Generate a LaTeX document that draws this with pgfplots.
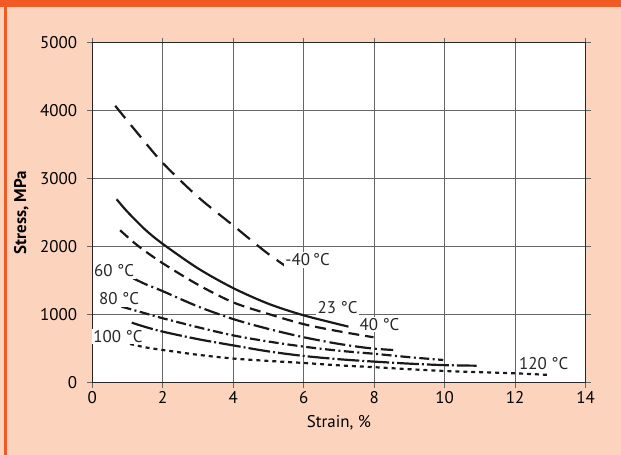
\documentclass[border=0pt]{standalone}
\usepackage{fontspec}
\setmainfont{PT Sans}
\usepackage{pgfplots}
\pgfplotsset{compat=1.18}
\definecolor{peach}{RGB}{252,212,190}
\definecolor{hdr}{RGB}{241,90,36}
\begin{document}
\fontsize{17}{20}\selectfont
\begin{tikzpicture}
\useasboundingbox (0,0) rectangle (621bp,455bp);
\fill[peach] (0,0) rectangle (621bp,455bp);
\fill[hdr] (0,447.7bp) rectangle (621bp,455bp);
\fill[hdr] (4bp,0) rectangle (7.3bp,455bp);
\begin{axis}[
  at={(92.3bp,72.3bp)}, anchor=south west,
  scale only axis, width=493.3bp, height=340.2bp,
  xmin=0, xmax=14, ymin=0, ymax=5000,
  xtick={0,2,...,14}, ytick={0,1000,...,5000},
  axis background/.style={fill=white},
  axis line style={line width=1.6pt, black!85},
  grid=major,
  major grid style={line width=1.1pt, black!60},
  tick align=outside, major tick length=5bp,
  tick style={line width=1.1pt, black!60},
  /pgf/number format/assume math mode=true,
  /pgf/number format/1000 sep={},
  yticklabel style={anchor=east, inner sep=0pt, xshift=-10bp},
  xticklabel style={anchor=north, inner sep=0pt, yshift=-4bp},
  xlabel={Strain, \%},
  ylabel={\bfseries Stress, MPa},
  xlabel style={at={(axis description cs:0.5,-0.117)}, anchor=center},
  ylabel style={at={(axis description cs:-0.144,0.5)}, anchor=center},
  every axis plot/.append style={line width=2.2pt, black!90, smooth, no markers},
  clip=false,
]
% -40 C
\addplot[dash pattern=on 16pt off 9pt] coordinates {(0.65,4070) (1.28,3670) (2.0,3230) (3.0,2730) (4.0,2310) (4.9,1930) (5.52,1700)};
% 23 C
\addplot[solid] coordinates {(0.69,2696) (1.0,2510) (1.5,2250) (2.0,2040) (3.0,1680) (4.0,1390) (5.0,1160) (6.0,990) (7.27,824)};
% 40 C
\addplot[dash pattern=on 11pt off 6pt] coordinates {(0.79,2240) (1.3,2010) (2.0,1755) (3.0,1440) (4.0,1180) (5.0,1010) (6.0,860) (7.0,755) (7.98,668)};
% 60 C
\addplot[dash pattern=on 16pt off 4pt on 2pt off 4pt] coordinates {(1.16,1535) (1.5,1450) (2.0,1345) (3.0,1120) (4.0,935) (5.0,790) (6.0,668) (7.0,570) (7.9,505) (8.54,481)};
% 80 C
\addplot[dash pattern=on 10pt off 3.5pt on 2pt off 3.5pt] coordinates {(0.83,1118) (1.5,1020) (2.0,947) (3.0,815) (4.0,695) (5.0,605) (6.0,530) (7.0,470) (8.0,425) (9.0,375) (9.96,334)};
% 100 C
\addplot[dash pattern=on 22pt off 3pt on 2pt off 3pt] coordinates {(1.12,882) (1.5,820) (2.0,750) (3.0,640) (4.0,548) (5.0,460) (6.0,393) (7.0,345) (8.0,310) (9.0,280) (10.0,258) (10.91,250)};
% 120 C
\addplot[dash pattern=on 4pt off 4pt] coordinates {(1.07,569) (1.5,520) (2.0,481) (3.0,410) (4.0,355) (5.0,320) (6.0,290) (7.0,255) (8.0,228) (9.0,198) (10.0,172) (11.0,155) (12.0,138) (13.0,113)};
\begin{scope}[every node/.style={fill=white, inner sep=1.5pt, text=black!85}]
\node at (axis cs:6.11,1804) {-40\,°C};
\node at (axis cs:6.96,1099) {23 °C};
\node at (axis cs:8.15,856) {40 °C};
\node at (axis cs:0.62,1643) {60 °C};
\node at (axis cs:0.76,1231) {80 °C};
\node at (axis cs:0.73,679) {100 °C};
\node at (axis cs:12.81,282) {120 °C};
\end{scope}
\end{axis}
\end{tikzpicture}
\end{document}
